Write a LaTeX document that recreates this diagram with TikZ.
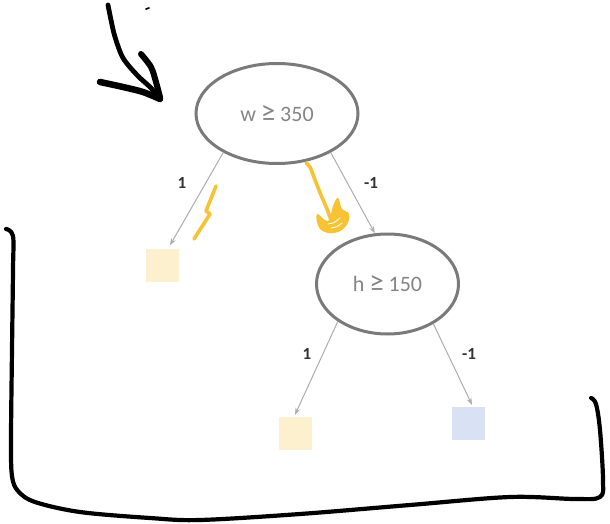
\documentclass[tikz,border=0pt]{standalone}
\usepackage{fontspec}
\setmainfont{Carlito}
\usetikzlibrary{arrows.meta,calc,shapes.geometric}

\definecolor{ringgrey}{HTML}{7A7A7A}
\definecolor{textgrey}{HTML}{858585}
\definecolor{linkgrey}{HTML}{ADADAD}
\definecolor{labelgrey}{HTML}{333333}
\definecolor{leafyellow}{HTML}{FDF0CE}
\definecolor{leafblue}{HTML}{D9E2F2}
\definecolor{markeryellow}{HTML}{F7C335}

% a wider, taller "greater or equal" sign with its spacing
\newcommand{\geqsign}{\hspace{0.22em}{\fontsize{29}{24}\selectfont ≥}\hspace{0.22em}}

\tikzset{
  test/.style={ellipse, draw=ringgrey, line width=3pt, inner sep=0pt,
    text=textgrey, font=\fontsize{22}{24}\selectfont},
  leaf/.style={rectangle, inner sep=0pt, minimum size=33pt},
  branch/.style={draw=linkgrey, line width=1pt,
    -{Stealth[length=7pt,width=5pt,fill=linkgrey]}},
  edgelabel/.style={text=labelgrey, font=\fontsize{17}{18}\selectfont\bfseries, inner sep=0pt},
  ink/.style={line width=4.8pt, line cap=round, line join=round, black},
  marker/.style={line width=3.6pt, line cap=round, line join=round, markeryellow},
}

\begin{document}
\begin{tikzpicture}[x=1pt,y=-1pt]
\useasboundingbox (0,0) rectangle (610,524);

% decision nodes
\node[test, minimum width=162pt, minimum height=100pt] (root) at (277,113.5) {w\geqsign350};
\node[test, minimum width=142pt, minimum height=100pt] (inner) at (387.5,284) {h\geqsign150};

% leaves
\node[leaf, fill=leafyellow] (leafA) at (162,265) {};
\node[leaf, fill=leafyellow] (leafB) at (295,433.5) {};
\node[leaf, fill=leafblue]   (leafC) at (468.5,423.5) {};

% branches
\draw[branch] (root.216) -- ([xshift=8pt,yshift=3pt]leafA.north);
\draw[branch] (root.-36) -- (inner.104);
\draw[branch] (inner.217) -- ([yshift=2pt]leafB.north);
\draw[branch] (inner.-41) -- ([xshift=3.5pt,yshift=2pt]leafC.north);

% branch labels
\node[edgelabel] (lA) at (182,183) {1};
\node[edgelabel] (lB) at (371,183) {-1};
\node[edgelabel] (lC) at (307,354) {1};
\node[edgelabel] (lD) at (469,354) {-1};

% hand-drawn pointer at the root
\draw[ink] plot[smooth] coordinates {(108,5) (111,20) (115,37) (123,58) (137,75) (151,88) (159,98)};
\draw[ink, line width=6.5pt] plot[smooth] coordinates {(100,82) (123,87) (143,92) (160,99)};
\draw[ink, line width=6pt] plot[smooth] coordinates {(141,54) (151,67) (156,82) (160,97)};
\draw[ink, line width=1.6pt] (146,9) -- (149,8);

% hand-drawn bracket around the lower levels
\draw[ink, line width=4.2pt] plot[smooth, tension=0.55] coordinates {
  (6,229) (13,236) (13,270) (12,350) (11,440) (12,476) (18,491) (35,502)
  (80,512) (150,518) (200,520) (300,514) (410,505) (510,497) (575,499)
  (600,497) (603,480) (600,430) (596,404) (591,398)};

% yellow marker strokes
\draw[marker] (216,186) -- (206,211) -- (210,214) -- (194,239);
\draw[marker] plot[smooth] coordinates {(306,163) (310,167) (315,180) (321,195) (327,209) (331,220)};
\fill[markeryellow] plot[smooth cycle, tension=0.7] coordinates {
  (317,214) (328,221) (333,206) (338,198) (342,209) (349,214)
  (346,226) (334,233) (320,229)};
\draw[white, line width=0.8pt, line cap=round] (328,224) .. controls (334,223) .. (340,218);
\draw[white, line width=0.8pt, line cap=round] (331,228) .. controls (337,227) .. (342,223);
\end{tikzpicture}
\end{document}
